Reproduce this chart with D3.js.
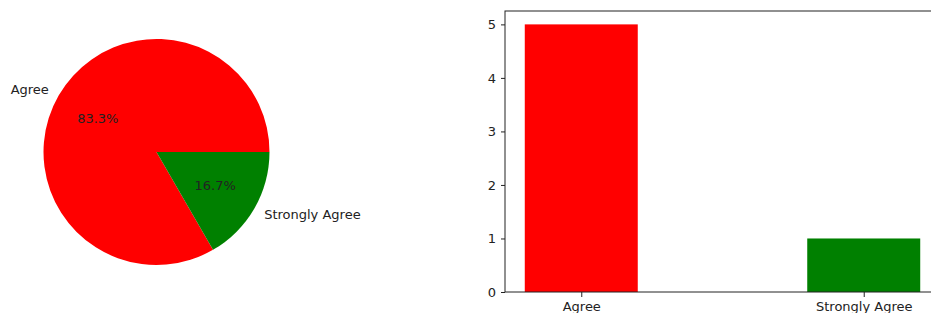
<!DOCTYPE html>
<html>
<head>
<meta charset="utf-8">
<script src="https://cdn.jsdelivr.net/npm/d3@7"></script>
<style>
  body { margin: 0; background: #fff; }
  svg { display: block; font-family: "DejaVu Sans", sans-serif; }
</style>
</head>
<body>
<div id="container"></div>
<script>
const categories = ["Agree", "Strongly Agree"];
const counts = [5, 1];
const colors = ["#ff0000", "#008000"];
const yTicks = [0, 1, 2, 3, 4, 5];

const W = 931, H = 313;
const svg = d3.select("#container").append("svg")
    .attr("width", W)
    .attr("height", H);

const fontSize = 13;
const textColor = "#222";

// pie, matplotlib style: start at 3 o'clock, counterclockwise
const cx = 156.5, cy = 152, r = 113;
const total = d3.sum(counts);
const pie = d3.pie().sort(null).value(d => d)
    // d3 angles run clockwise from 12 o'clock; map ccw from 3 o'clock
    .startAngle(Math.PI / 2)
    .endAngle(Math.PI / 2 - 2 * Math.PI);
const arcs = pie(counts);
const arc = d3.arc().innerRadius(0).outerRadius(r);

const pieG = svg.append("g").attr("transform", `translate(${cx},${cy})`);
pieG.selectAll("path")
    .data(arcs)
    .enter()
    .append("path")
    .attr("d", arc)
    .attr("fill", (d, i) => colors[i]);

function midPoint(d, k) {
    const a = (d.startAngle + d.endAngle) / 2;
    return [Math.sin(a) * r * k, -Math.cos(a) * r * k];
}

pieG.selectAll("text.lbl")
    .data(arcs)
    .enter()
    .append("text")
    .attr("class", "lbl")
    .attr("x", d => midPoint(d, 1.1)[0])
    .attr("y", d => midPoint(d, 1.1)[1])
    .attr("dy", "0.35em")
    .attr("text-anchor", d => midPoint(d, 1.1)[0] < 0 ? "end" : "start")
    .style("font-size", fontSize + "px")
    .attr("fill", textColor)
    .text((d, i) => categories[i]);

pieG.selectAll("text.pct")
    .data(arcs)
    .enter()
    .append("text")
    .attr("class", "pct")
    .attr("x", d => midPoint(d, 0.6)[0])
    .attr("y", d => midPoint(d, 0.6)[1])
    .attr("dy", "0.35em")
    .attr("text-anchor", "middle")
    .style("font-size", fontSize + "px")
    .attr("fill", textColor)
    .text(d => (d.value / total * 100).toFixed(1) + "%");

// bar chart
const axLeft = 505, axTop = 11, axBottom = 292, axRight = 940;
const x = d3.scaleLinear().domain([-0.27, 1.27]).range([axLeft, axRight]);
const y = d3.scaleLinear().domain([0, 5.25]).range([axBottom, axTop]);
const barW = 0.4;

const barG = svg.append("g");
barG.selectAll("rect")
    .data(counts)
    .enter()
    .append("rect")
    .attr("x", (d, i) => x(i - barW / 2))
    .attr("width", (d, i) => x(i + barW / 2) - x(i - barW / 2))
    .attr("y", d => y(d))
    .attr("height", d => y(0) - y(d))
    .attr("fill", (d, i) => colors[i]);

barG.append("rect")
    .attr("x", axLeft)
    .attr("y", axTop)
    .attr("width", axRight - axLeft)
    .attr("height", axBottom - axTop)
    .attr("fill", "none")
    .attr("stroke", "#222")
    .attr("stroke-width", 1);

const yAxis = svg.append("g")
    .attr("transform", `translate(${axLeft},0)`)
    .call(d3.axisLeft(y).tickValues(yTicks).tickFormat(d3.format("d"))
        .tickSize(4).tickPadding(5));
yAxis.select(".domain").remove();

const xAxis = svg.append("g")
    .attr("transform", `translate(0,${axBottom})`)
    .call(d3.axisBottom(x).tickValues([0, 1]).tickFormat(i => categories[i])
        .tickSize(5).tickPadding(5));
xAxis.select(".domain").remove();

svg.selectAll(".tick text")
    .style("font-size", fontSize + "px")
    .style("font-family", "DejaVu Sans, sans-serif")
    .attr("fill", textColor);
svg.selectAll(".tick line").attr("stroke", "#222");
</script>
</body>
</html>
